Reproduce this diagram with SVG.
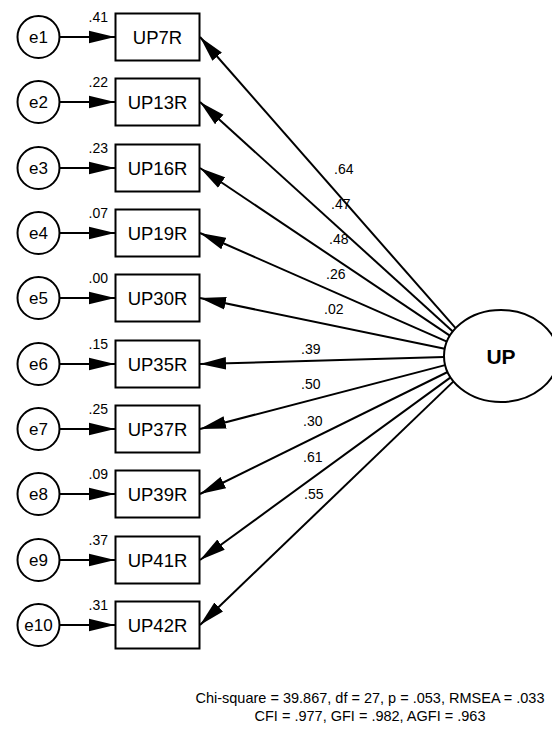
<svg xmlns="http://www.w3.org/2000/svg" width="552" height="733" viewBox="0 0 552 733">
  <style>
    .node { fill: #fff; stroke: #000; stroke-width: 2; }
    .edge { stroke: #000; stroke-width: 2; fill: none; marker-end: url(#arrow); }
    .lbl { font-family: "Liberation Sans", Arial, sans-serif; fill: #000; }
    .err { font-size: 17px; text-anchor: middle; }
    .obs { font-size: 18.5px; text-anchor: middle; }
    .var { font-size: 14px; text-anchor: end; }
    .coef { font-size: 14px; }
    .fit { font-size: 14.5px; text-anchor: middle; }
  </style>
  <defs>
    <marker id="arrow" markerUnits="userSpaceOnUse" markerWidth="26" markerHeight="14" refX="26" refY="7" orient="auto">
      <path d="M0,0.7 L26,7 L0,13.3 z" fill="#000"/>
    </marker>
  </defs>

  <!-- connectors: error terms to indicators, factor to indicators -->
  <g id="connectors">
    <line class="edge" x1="60" y1="37" x2="115" y2="37"/>
    <line class="edge" x1="60" y1="102" x2="115" y2="102"/>
    <line class="edge" x1="60" y1="168" x2="115" y2="168"/>
    <line class="edge" x1="60" y1="233" x2="115" y2="233"/>
    <line class="edge" x1="60" y1="298" x2="115" y2="298"/>
    <line class="edge" x1="60" y1="364" x2="115" y2="364"/>
    <line class="edge" x1="60" y1="429" x2="115" y2="429"/>
    <line class="edge" x1="60" y1="494" x2="115" y2="494"/>
    <line class="edge" x1="60" y1="560" x2="115" y2="560"/>
    <line class="edge" x1="60" y1="625" x2="115" y2="625"/>

    <line class="edge" x1="455.6" y1="328.2" x2="200" y2="37"/>
    <line class="edge" x1="452.8" y1="331.4" x2="200" y2="102"/>
    <line class="edge" x1="449.8" y1="335.7" x2="200" y2="168"/>
    <line class="edge" x1="446.9" y1="341.6" x2="200" y2="233"/>
    <line class="edge" x1="444.7" y1="348.8" x2="200" y2="298"/>
    <line class="edge" x1="444.0" y1="357.0" x2="200" y2="364"/>
    <line class="edge" x1="445.1" y1="365.1" x2="200" y2="429"/>
    <line class="edge" x1="447.6" y1="372.0" x2="200" y2="494"/>
    <line class="edge" x1="450.6" y1="377.4" x2="200" y2="560"/>
    <line class="edge" x1="453.5" y1="381.4" x2="200" y2="625"/>
  </g>

  <!-- loading estimates -->
  <g id="loadings" class="lbl coef">
    <text x="334" y="174">.64</text>
    <text x="331" y="209">.47</text>
    <text x="329" y="244">.48</text>
    <text x="326" y="279">.26</text>
    <text x="324" y="314">.02</text>
    <text x="301" y="354">.39</text>
    <text x="301" y="389">.50</text>
    <text x="303" y="426">.30</text>
    <text x="303" y="462">.61</text>
    <text x="304" y="499">.55</text>
  </g>

  <!-- error terms -->
  <g id="e1"><circle class="node" cx="38.5" cy="37" r="21"/><text class="lbl err" x="38.5" y="43">e1</text></g>
  <g id="e2"><circle class="node" cx="38.5" cy="102" r="21"/><text class="lbl err" x="38.5" y="108">e2</text></g>
  <g id="e3"><circle class="node" cx="38.5" cy="168" r="21"/><text class="lbl err" x="38.5" y="174">e3</text></g>
  <g id="e4"><circle class="node" cx="38.5" cy="233" r="21"/><text class="lbl err" x="38.5" y="239">e4</text></g>
  <g id="e5"><circle class="node" cx="38.5" cy="298" r="21"/><text class="lbl err" x="38.5" y="304">e5</text></g>
  <g id="e6"><circle class="node" cx="38.5" cy="364" r="21"/><text class="lbl err" x="38.5" y="370">e6</text></g>
  <g id="e7"><circle class="node" cx="38.5" cy="429" r="21"/><text class="lbl err" x="38.5" y="435">e7</text></g>
  <g id="e8"><circle class="node" cx="38.5" cy="494" r="21"/><text class="lbl err" x="38.5" y="500">e8</text></g>
  <g id="e9"><circle class="node" cx="38.5" cy="560" r="21"/><text class="lbl err" x="38.5" y="566">e9</text></g>
  <g id="e10"><circle class="node" cx="38.5" cy="625" r="21"/><text class="lbl err" x="38.5" y="631">e10</text></g>

  <!-- observed indicators with squared multiple correlations -->
  <g id="UP7R"><rect class="node" x="115.5" y="13.5" width="84" height="47"/><text class="lbl obs" x="157.5" y="44">UP7R</text><text class="lbl var" x="108" y="22">.41</text></g>
  <g id="UP13R"><rect class="node" x="115.5" y="78.5" width="84" height="47"/><text class="lbl obs" x="157.5" y="109">UP13R</text><text class="lbl var" x="108" y="87">.22</text></g>
  <g id="UP16R"><rect class="node" x="115.5" y="144.5" width="84" height="47"/><text class="lbl obs" x="157.5" y="175">UP16R</text><text class="lbl var" x="108" y="153">.23</text></g>
  <g id="UP19R"><rect class="node" x="115.5" y="209.5" width="84" height="47"/><text class="lbl obs" x="157.5" y="240">UP19R</text><text class="lbl var" x="108" y="218">.07</text></g>
  <g id="UP30R"><rect class="node" x="115.5" y="274.5" width="84" height="47"/><text class="lbl obs" x="157.5" y="305">UP30R</text><text class="lbl var" x="108" y="283">.00</text></g>
  <g id="UP35R"><rect class="node" x="115.5" y="340.5" width="84" height="47"/><text class="lbl obs" x="157.5" y="371">UP35R</text><text class="lbl var" x="108" y="349">.15</text></g>
  <g id="UP37R"><rect class="node" x="115.5" y="405.5" width="84" height="47"/><text class="lbl obs" x="157.5" y="436">UP37R</text><text class="lbl var" x="108" y="414">.25</text></g>
  <g id="UP39R"><rect class="node" x="115.5" y="470.5" width="84" height="47"/><text class="lbl obs" x="157.5" y="501">UP39R</text><text class="lbl var" x="108" y="479">.09</text></g>
  <g id="UP41R"><rect class="node" x="115.5" y="536.5" width="84" height="47"/><text class="lbl obs" x="157.5" y="567">UP41R</text><text class="lbl var" x="108" y="545">.37</text></g>
  <g id="UP42R"><rect class="node" x="115.5" y="601.5" width="84" height="47"/><text class="lbl obs" x="157.5" y="632">UP42R</text><text class="lbl var" x="108" y="610">.31</text></g>

  <!-- latent factor -->
  <g id="UP">
    <ellipse class="node" cx="501" cy="356" rx="57" ry="46"/>
    <text class="lbl" x="501" y="364" font-size="21" font-weight="bold" text-anchor="middle">UP</text>
  </g>

  <!-- fit statistics -->
  <g id="fit" class="lbl fit">
    <text x="370" y="703">Chi-square = 39.867, df = 27, p = .053, RMSEA = .033</text>
    <text x="370" y="721">CFI = .977, GFI = .982, AGFI = .963</text>
  </g>
</svg>
